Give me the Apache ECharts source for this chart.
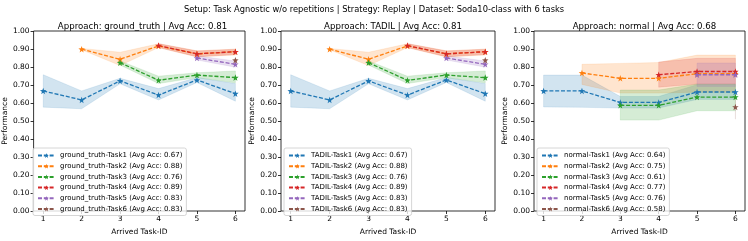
<!DOCTYPE html>
<html><head><meta charset="utf-8">
<script src="https://cdn.jsdelivr.net/npm/echarts@6/dist/echarts.min.js"></script>
<style>html,body{margin:0;padding:0;background:#fff}#c{width:748px;height:241px}</style>
</head><body><div id="c"></div>
<script>
const tasks = [1, 2, 3, 4, 5, 6];
const suptitle = 'Setup: Task Agnostic w/o repetitions | Strategy: Replay | Dataset: Soda10-class with 6 tasks';
const approaches = ['ground_truth', 'TADIL', 'normal'];
const approachAvg = [0.81, 0.81, 0.68];
const taskAvg = [
  [0.67, 0.88, 0.76, 0.89, 0.83, 0.83],
  [0.67, 0.88, 0.76, 0.89, 0.83, 0.83],
  [0.64, 0.75, 0.61, 0.77, 0.76, 0.58]
];
const colors = ['#1f77b4', '#ff7f0e', '#2ca02c', '#d62728', '#9467bd', '#8c564b'];
const bandColors = ['rgba(31,119,180,0.2)', 'rgba(255,127,14,0.2)', 'rgba(44,160,44,0.2)', 'rgba(214,39,40,0.2)', 'rgba(148,103,189,0.2)', 'rgba(140,86,75,0.2)'];

// ground_truth: mean / low / high per task (rows) per arrived task (columns)
const gtMean = [
  [0.667, 0.617, 0.723, 0.644, 0.728, 0.652],
  [null, 0.899, 0.843, 0.917, 0.873, 0.885],
  [null, null, 0.824, 0.726, 0.755, 0.741],
  [null, null, null, 0.919, 0.873, 0.885],
  [null, null, null, null, 0.850, 0.815],
  [null, null, null, null, null, 0.838]
];
const gtLow = [
  [0.577, 0.568, 0.707, 0.617, 0.714, 0.610],
  [null, 0.896, 0.808, 0.908, 0.856, 0.867],
  [null, null, 0.811, 0.708, 0.741, 0.712],
  [null, null, null, 0.908, 0.857, 0.869],
  [null, null, null, null, 0.839, 0.799],
  [null, null, null, null, null, 0.830]
];
const gtHigh = [
  [0.757, 0.667, 0.737, 0.680, 0.741, 0.708],
  [null, 0.903, 0.882, 0.929, 0.890, 0.899],
  [null, null, 0.834, 0.749, 0.768, 0.778],
  [null, null, null, 0.930, 0.889, 0.899],
  [null, null, null, null, 0.862, 0.833],
  [null, null, null, null, null, 0.846]
];
// TADIL
const tadilMean = [
  [0.667, 0.617, 0.723, 0.644, 0.728, 0.652],
  [null, 0.899, 0.843, 0.917, 0.873, 0.885],
  [null, null, 0.824, 0.726, 0.755, 0.741],
  [null, null, null, 0.919, 0.873, 0.885],
  [null, null, null, null, 0.850, 0.815],
  [null, null, null, null, null, 0.838]
];
const tadilLow = [
  [0.577, 0.568, 0.707, 0.617, 0.714, 0.610],
  [null, 0.896, 0.808, 0.908, 0.856, 0.867],
  [null, null, 0.811, 0.708, 0.741, 0.712],
  [null, null, null, 0.908, 0.857, 0.869],
  [null, null, null, null, 0.839, 0.799],
  [null, null, null, null, null, 0.830]
];
const tadilHigh = [
  [0.757, 0.667, 0.737, 0.680, 0.741, 0.708],
  [null, 0.903, 0.882, 0.929, 0.890, 0.899],
  [null, null, 0.834, 0.749, 0.768, 0.778],
  [null, null, null, 0.930, 0.889, 0.899],
  [null, null, null, null, 0.862, 0.833],
  [null, null, null, null, null, 0.846]
];
// normal
const normMean = [
  [0.667, 0.667, 0.603, 0.603, 0.661, 0.661],
  [null, 0.767, 0.737, 0.737, 0.763, 0.763],
  [null, null, 0.587, 0.587, 0.633, 0.633],
  [null, null, null, 0.757, 0.775, 0.775],
  [null, null, null, null, 0.757, 0.757],
  [null, null, null, null, null, 0.578]
];
const normLow = [
  [0.578, 0.576, 0.572, 0.572, 0.620, 0.620],
  [null, 0.703, 0.655, 0.655, 0.660, 0.660],
  [null, null, 0.505, 0.505, 0.557, 0.557],
  [null, null, null, 0.688, 0.705, 0.705],
  [null, null, null, null, 0.692, 0.692],
  [null, null, null, null, null, 0.510]
];
const normHigh = [
  [0.755, 0.755, 0.636, 0.636, 0.702, 0.702],
  [null, 0.815, 0.820, 0.825, 0.866, 0.866],
  [null, null, 0.672, 0.672, 0.705, 0.705],
  [null, null, null, 0.828, 0.848, 0.848],
  [null, null, null, null, 0.822, 0.822],
  [null, null, null, null, null, 0.650]
];

const panelMean = [gtMean, tadilMean, normMean];
const panelLow = [gtLow, tadilLow, normLow];
const panelHigh = [gtHigh, tadilHigh, normHigh];

const star = 'path://M0,-10L2.35,-3.24L9.51,-3.09L3.8,1.24L5.88,8.09L0,4L-5.88,8.09L-3.8,1.24L-9.51,-3.09L-2.35,-3.24Z';
const FONT = 'DejaVu Sans';
const gridsPx = [
  {left: 30, top: 31, width: 215, height: 189},
  {left: 281, top: 31, width: 214, height: 189},
  {left: 534, top: 31, width: 211, height: 189}
];

const grid = [], xAxis = [], yAxis = [], series = [], legend = [];
const title = [{text: suptitle, left: 'center', top: 1, textStyle: {fontFamily: FONT, fontSize: 8.3, fontWeight: 'normal', color: '#000'}}];

function bandRenderer(points) {
  return function (params, api) {
    if (params.dataIndex !== 0) return null;
    const upper = points.map(pt => api.coord([pt[0], pt[2]]));
    const lower = points.map(pt => api.coord([pt[0], pt[1]])).reverse();
    const color = api.visual('color');
    if (points.length === 1) {
      return {type: 'line', shape: {x1: upper[0][0], y1: upper[0][1], x2: lower[0][0], y2: lower[0][1]},
        style: {stroke: color, lineWidth: 1}, silent: true};
    }
    return {type: 'polygon', shape: {points: upper.concat(lower)},
      style: {fill: color, stroke: color, lineWidth: 0.6}, silent: true};
  };
}

approaches.forEach((ap, p) => {
  const g = gridsPx[p];
  grid.push({left: g.left, top: g.top, width: g.width, height: g.height, show: true, borderColor: '#000', borderWidth: 0.8, backgroundColor: 'transparent'});
  title.push({text: 'Approach: ' + ap + ' | Avg Acc: ' + approachAvg[p].toFixed(2), left: g.left + g.width / 2, top: 17, textAlign: 'center',
    textStyle: {fontFamily: FONT, fontSize: 8.6, fontWeight: 'normal', color: '#000'}});
  xAxis.push({type: 'value', gridIndex: p, min: 0.75, max: 6.25,
    name: 'Arrived Task-ID', nameLocation: 'middle', nameGap: 17, nameTextStyle: {fontFamily: FONT, fontSize: 7.5, color: '#000'},
    axisLine: {show: false}, splitLine: {show: false},
    axisTick: {show: true, customValues: tasks, length: 3, lineStyle: {color: '#000', width: 0.8}},
    axisLabel: {customValues: tasks, fontFamily: FONT, fontSize: 7.5, color: '#000', margin: 4}});
  yAxis.push({type: 'value', gridIndex: p, min: 0, max: 1, interval: 0.1,
    name: 'Performance', nameLocation: 'middle', nameRotate: 90, nameGap: 24, nameTextStyle: {fontFamily: FONT, fontSize: 7.5, color: '#000'},
    axisLine: {show: false}, splitLine: {show: false},
    axisTick: {show: true, length: 3, lineStyle: {color: '#000', width: 0.8}},
    axisLabel: {fontFamily: FONT, fontSize: 7.5, color: '#000', margin: 4, formatter: v => v.toFixed(2)}});

  const names = [];
  for (let t = 0; t < 6; t++) {
    const mean = panelMean[p][t], lo = panelLow[p][t], hi = panelHigh[p][t];
    const bandData = [], meanData = [];
    tasks.forEach((x, i) => {
      if (mean[i] !== null) {
        meanData.push([x, mean[i]]);
        bandData.push([x, lo[i], hi[i]]);
      }
    });
    series.push({type: 'custom', xAxisIndex: p, yAxisIndex: p, data: bandData, renderItem: bandRenderer(bandData),
      encode: {x: 0, y: [1, 2]}, itemStyle: {color: bandColors[t]}, silent: true, z: 1, clip: true});
    const nm = ap + '-Task' + (t + 1) + ' (Avg Acc: ' + taskAvg[p][t].toFixed(2) + ')';
    names.push(nm);
    series.push({name: nm, type: 'line', xAxisIndex: p, yAxisIndex: p, data: meanData, symbol: star, symbolSize: 6.5, showSymbol: true,
      color: colors[t], lineStyle: {color: colors[t], width: 1.3, type: [4, 1.8]}, itemStyle: {color: colors[t]}, z: 3});
  }
  legend.push({data: names, left: g.left + 3, top: 148, orient: 'vertical', itemWidth: 17, itemHeight: 6, itemGap: 3.7,
    padding: [4, 4, 3, 4], borderColor: '#cccccc', borderWidth: 0.8, borderRadius: 2, backgroundColor: 'rgba(255,255,255,0.8)',
    textStyle: {fontFamily: FONT, fontSize: 7, color: '#000'}, selectedMode: false});
});

const chart = echarts.init(document.getElementById('c'), null, {renderer: 'canvas'});
chart.setOption({animation: false, backgroundColor: '#fff', title, grid, xAxis, yAxis, series, legend});
</script>
</body></html>
